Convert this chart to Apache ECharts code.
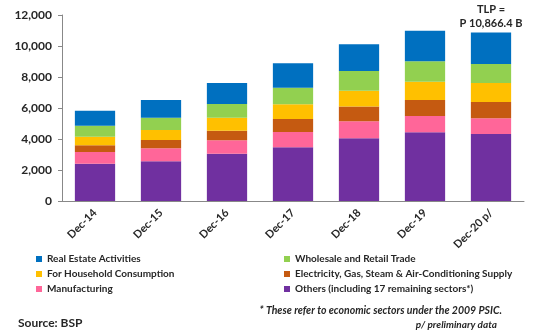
<!DOCTYPE html>
<html>
<head>
<meta charset="utf-8">
<script src="https://cdn.jsdelivr.net/npm/echarts@6/dist/echarts.min.js"></script>
<style>
html, body { margin: 0; padding: 0; background: #fff; }
#mainChart { width: 543px; height: 333px; }
</style>
</head>
<body>
<div id="mainChart"></div>
<script>
// categories and stacked sector values (P billion)
var categories = ['Dec-14', 'Dec-15', 'Dec-16', 'Dec-17', 'Dec-18', 'Dec-19', 'Dec-20 p/'];
var others = [2410, 2560, 3050, 3460, 4050, 4430, 4320];
var manufacturing = [750, 840, 870, 990, 1090, 1050, 1020];
var electricity = [430, 540, 620, 840, 950, 1040, 1050];
var household = [560, 640, 830, 950, 1030, 1180, 1220];
var wholesale = [710, 790, 890, 1070, 1270, 1310, 1230];
var realEstate = [970, 1150, 1350, 1570, 1720, 1980, 2026.4];
var yTicks = [0, 2000, 4000, 6000, 8000, 10000, 12000];

var font = 'Lato';
var myChart = echarts.init(document.getElementById('mainChart'));

function bar(name, data, color) {
    return {
        name: name,
        type: 'bar',
        stack: 'total',
        barCategoryGap: '39%',
        itemStyle: { color: color },
        data: data
    };
}

var series = [
    bar('Others (including 17 remaining sectors*)', others, '#7030A0'),
    bar('Manufacturing', manufacturing, '#FF6699'),
    bar('Electricity, Gas, Steam & Air-Conditioning Supply', electricity, '#C55A11'),
    bar('For Household Consumption', household, '#FFC000'),
    bar('Wholesale and Retail Trade', wholesale, '#92D050'),
    bar('Real Estate Activities', realEstate, '#0070C0')
];
// total label above last bar
series[5].label = {
    show: true,
    position: 'top',
    distance: 2,
    fontFamily: font,
    fontSize: 11,
    fontWeight: 'bold',
    color: '#262626',
    lineHeight: 14,
    formatter: function (p) {
        return p.dataIndex === categories.length - 1 ? 'TLP =\nP 10,866.4 B' : '';
    }
};

var legendText = { fontFamily: font, fontSize: 10, lineHeight: 12, fontWeight: 'bold', color: '#262626' };

myChart.setOption({
    animation: false,
    grid: { left: 62, right: 19, top: 15, bottom: 132 },
    legend: [{
        orient: 'vertical', left: 31, top: 248,
        itemWidth: 6, itemHeight: 6, itemGap: 3,
        icon: 'rect', textStyle: legendText,
        data: ['Real Estate Activities', 'For Household Consumption', 'Manufacturing']
    }, {
        orient: 'vertical', left: 279, top: 248,
        itemWidth: 6, itemHeight: 6, itemGap: 3,
        icon: 'rect', textStyle: legendText,
        data: ['Wholesale and Retail Trade', 'Electricity, Gas, Steam & Air-Conditioning Supply', 'Others (including 17 remaining sectors*)']
    }],
    xAxis: {
        type: 'category',
        data: categories,
        axisLine: { lineStyle: { color: '#888' } },
        axisTick: { show: false },
        axisLabel: {
            rotate: 45, margin: 10, interval: 0,
            fontFamily: font, fontSize: 11, fontWeight: 'bold', color: '#262626'
        }
    },
    yAxis: {
        type: 'value',
        min: yTicks[0],
        max: yTicks[yTicks.length - 1],
        interval: 2000,
        splitLine: { show: false },
        axisLine: { show: true, lineStyle: { color: '#888' } },
        axisTick: { show: true, length: 4, lineStyle: { color: '#888' } },
        axisLabel: {
            margin: 10,
            fontFamily: font, fontSize: 12, fontWeight: 'bold', color: '#262626',
            formatter: function (v) { return v.toLocaleString('en-US'); }
        }
    },
    graphic: [{
        type: 'text', right: 41, top: 305,
        style: { text: '* These refer to economic sectors under the 2009 PSIC.', font: 'italic bold 10.5px Lato', fill: '#262626' }
    }, {
        type: 'text', right: 46, top: 320,
        style: { text: 'p/ preliminary data', font: 'italic bold 10px Lato', fill: '#262626' }
    }, {
        type: 'text', left: 18, top: 317,
        style: { text: 'Source: BSP', font: 'bold 12px Lato', fill: '#262626' }
    }],
    series: series
});
</script>
</body>
</html>
